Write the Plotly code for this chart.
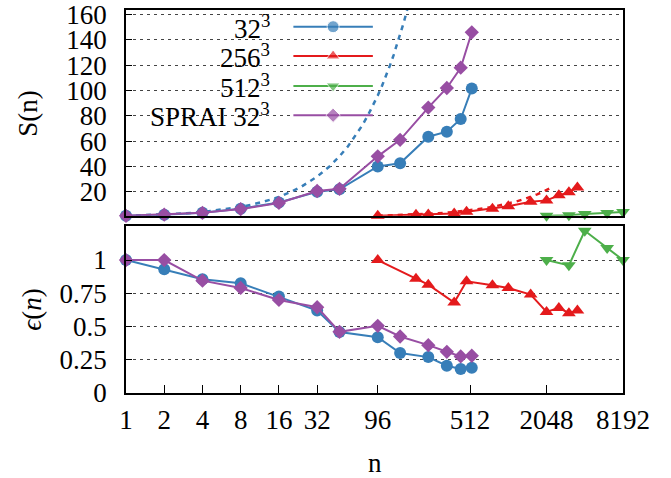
import plotly.graph_objects as go

# ---------------- data ----------------
n_32 = [1, 2, 4, 8, 16, 32, 48, 96, 144, 240, 336, 432, 528]
S_32 = [1, 1.85, 3.4, 6.6, 11.6, 20, 22, 40, 42.5, 63.5, 67.5, 77.5, 101.5]
E_32 = [1.0, 0.93, 0.855, 0.825, 0.725, 0.62, 0.458, 0.42, 0.30, 0.27, 0.205, 0.18, 0.19]

S_sp = [1, 2, 3.4, 6.3, 11.2, 20.6, 22.3, 48, 61, 86.5, 102, 118, 146]
E_sp = [1.0, 1.0, 0.845, 0.79, 0.70, 0.645, 0.46, 0.505, 0.425, 0.36, 0.31, 0.275, 0.28]

n_256 = [96, 192, 240, 384, 480, 768, 1024, 1536, 2048, 2560, 3072, 3584]
E_256 = [1.0, 0.86, 0.815, 0.68, 0.84, 0.81, 0.79, 0.74, 0.61, 0.64, 0.60, 0.62]
S_256 = [1, 1.75, 2.1, 2.8, 4.3, 6.6, 8.5, 12.2, 13.2, 17.2, 19.6, 23.3]

n_512 = [2048, 3072, 4096, 6144, 8192]
E_512 = [1.0, 0.96, 1.22, 1.09, 1.0]
S_512 = [1, 1.45, 2.45, 3.27, 4.0]

# ideal-speedup reference lines (S = n for 32^3, S = n/96 for 256^3)
ideal_32_n = [1, 2, 3, 4, 6, 8, 10, 12, 14, 16, 20, 24, 28, 32, 40, 48, 56, 64, 72, 80,
              88, 96, 104, 112, 120, 128, 136, 144, 152, 160, 168, 176]
ideal_32_S = [1, 2, 3, 4, 6, 8, 10, 12, 14, 16, 20, 24, 28, 32, 40, 48, 56, 64, 72, 80,
              88, 96, 104, 112, 120, 128, 136, 144, 152, 160, 168, 176]
ideal_256_n = [96, 192, 288, 384, 480, 576, 672, 768, 960, 1152, 1344, 1536, 1728, 1920, 2112, 2208]
ideal_256_S = [1, 2, 3, 4, 5, 6, 7, 8, 10, 12, 14, 16, 18, 20, 22, 23]

xticks = [1, 2, 4, 8, 16, 32, 96, 512, 2048, 8192]
s_ticks = [20, 40, 60, 80, 100, 120, 140, 160]
e_ticks = [0, 0.25, 0.5, 0.75, 1]
e_tick_text = ["0", "0.25", "0.5", "0.75", "1"]

legend_names = ["32<sup>3</sup>", "256<sup>3</sup>", "512<sup>3</sup>", "SPRAI 32<sup>3</sup>"]

# ---------------- styles ----------------
BLUE, RED, GREEN, PURPLE = "#377eb8", "#e41a1c", "#4daf4a", "#984ea3"
colors = [BLUE, RED, GREEN, PURPLE]
symbols = ["circle", "triangle-up", "triangle-down", "diamond"]
msizes = [12, 12, 12, 11]
FONT = "Liberation Serif"
FS = 27

fig = go.Figure()

fig.add_trace(go.Scatter(x=ideal_32_n, y=ideal_32_S, mode="lines", xaxis="x", yaxis="y",
                         line=dict(color=BLUE, width=2.5, dash="5px,5px"), showlegend=False))
fig.add_trace(go.Scatter(x=ideal_256_n, y=ideal_256_S, mode="lines", xaxis="x", yaxis="y",
                         line=dict(color=RED, width=2.5, dash="5px,5px"), showlegend=False))

series_top = [(n_32, S_32), (n_256, S_256), (n_512, S_512), (n_32, S_sp)]
series_bot = [(n_32, E_32), (n_256, E_256), (n_512, E_512), (n_32, E_sp)]

for i, (xs, ys) in enumerate(series_top):
    fig.add_trace(go.Scatter(x=xs, y=ys, mode="lines+markers", xaxis="x", yaxis="y",
                             line=dict(color=colors[i], width=2),
                             marker=dict(symbol=symbols[i], size=msizes[i], color=colors[i]),
                             cliponaxis=False, showlegend=False))
for i, (xs, ys) in enumerate(series_bot):
    fig.add_trace(go.Scatter(x=xs, y=ys, mode="lines+markers", xaxis="x2", yaxis="y2",
                             line=dict(color=colors[i], width=2),
                             marker=dict(symbol=symbols[i], size=msizes[i], color=colors[i]),
                             cliponaxis=False, showlegend=False))

# ---------------- manual legend (key on the right of the text) ----------------
leg_y = [0.9564, 0.8800, 0.8017, 0.7252]
for i in range(4):
    fig.add_trace(go.Scatter(x=[0.3368, 0.4167, 0.4967], y=[leg_y[i]] * 3, mode="lines+markers",
                             xaxis="x3", yaxis="y3",
                             line=dict(color=colors[i], width=2),
                             marker=dict(symbol=symbols[i], size=[0, msizes[i], 0], color=colors[i]),
                             cliponaxis=False, showlegend=False, hoverinfo="skip"))
    fig.add_annotation(x=0.2933, y=leg_y[i], xref="paper", yref="paper", text=legend_names[i],
                       showarrow=False, xanchor="right", yanchor="middle",
                       font=dict(family=FONT, size=FS, color="black"))

axis_common = dict(showline=True, linecolor="black", linewidth=1.5, mirror=True, automargin=False)

TOP_DOM = [0.4626, 1.0]
BOT_DOM = [0.0, 0.4357]

fig.update_layout(
    width=671, height=478,
    margin=dict(l=126, r=48, t=10, b=85, pad=0, autoexpand=False),
    paper_bgcolor="white", plot_bgcolor="rgba(0,0,0,0)",
    font=dict(family=FONT, size=FS, color="black"),
    xaxis=dict(type="log", range=[0, 3.91339], domain=[0, 1], anchor="y",
               tickvals=xticks, showticklabels=False, ticks="", showgrid=False,
               zeroline=False, **axis_common),
    yaxis=dict(range=[1, 163.6], domain=TOP_DOM, anchor="x", tickvals=s_ticks,
               ticks="inside", ticklen=6, tickcolor="black", tickwidth=1,
               showgrid=True, gridcolor="#444", gridwidth=1, griddash="3px,4px",
               zeroline=False, ticklabelstandoff=12, **axis_common),
    xaxis2=dict(type="log", range=[0, 3.91339], domain=[0, 1], anchor="y2",
                tickvals=xticks, ticktext=[str(v) for v in xticks],
                ticks="inside", ticklen=8, tickcolor="black", tickwidth=1,
                showgrid=False, zeroline=False, ticklabelstandoff=2, **axis_common),
    yaxis2=dict(range=[0, 1.255], domain=BOT_DOM, anchor="x2", tickvals=e_ticks,
                ticktext=e_tick_text, ticks="inside", ticklen=6, tickcolor="black",
                tickwidth=1, showgrid=True, gridcolor="#444", gridwidth=1,
                griddash="3px,4px", zeroline=False, ticklabelstandoff=12, **axis_common),
    xaxis3=dict(range=[0, 1], domain=[0, 1], anchor="y3", visible=False, automargin=False),
    yaxis3=dict(range=[0, 1], domain=[0, 1], anchor="x3", visible=False, automargin=False),
)

# axis titles
fig.add_annotation(x=-0.1973, y=0.7313, xref="paper", yref="paper", text="S(n)",
                   textangle=-90, showarrow=False, xanchor="center", yanchor="middle",
                   font=dict(family=FONT, size=FS))
fig.add_annotation(x=-0.1893, y=0.2173, xref="paper", yref="paper", text="<i>ϵ</i>(<i>n</i>)",
                   textangle=-90, showarrow=False, xanchor="center", yanchor="middle",
                   font=dict(family=FONT, size=FS))
fig.add_annotation(x=0.5, y=-0.182, xref="paper", yref="paper", text="n",
                   showarrow=False, xanchor="center", yanchor="middle",
                   font=dict(family=FONT, size=FS))

fig.write_html("out.html")
